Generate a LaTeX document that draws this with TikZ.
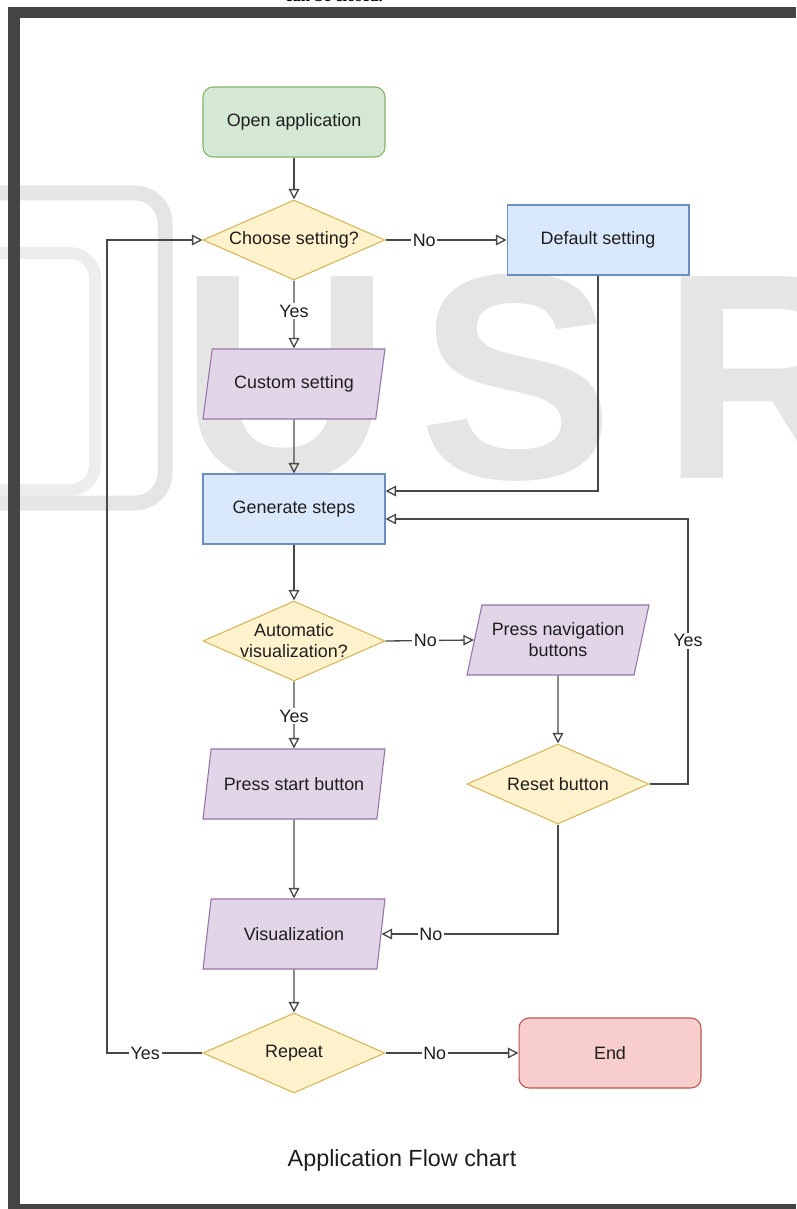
\documentclass[tikz,border=0pt]{standalone}
\usepackage{fontspec}
\setmainfont{Liberation Sans}
\newfontfamily\serifhead{Liberation Serif}
\usetikzlibrary{shapes.geometric,arrows.meta,positioning,calc}
\definecolor{framecol}{RGB}{68,68,68}
\definecolor{wmark}{RGB}{229,229,229}
\definecolor{linecol}{RGB}{72,72,72}
\definecolor{txtcol}{RGB}{30,30,30}
\definecolor{greenfill}{RGB}{213,232,212}\definecolor{greendraw}{RGB}{130,179,102}
\definecolor{yellowfill}{RGB}{255,242,204}\definecolor{yellowdraw}{RGB}{214,182,86}
\definecolor{bluefill}{RGB}{218,232,252}\definecolor{bluedraw}{RGB}{108,142,191}
\definecolor{purplefill}{RGB}{225,213,231}\definecolor{purpledraw}{RGB}{150,115,166}
\definecolor{redfill}{RGB}{248,206,204}\definecolor{reddraw}{RGB}{184,84,80}
\tikzset{shapebase/.style={draw,line width=0.6pt,minimum width=3.64cm,minimum height=1.4cm,
  align=center,text=txtcol,font=\fontsize{10.2}{12}\selectfont}}
\tikzset{terminal/.style={shapebase,rounded corners=0.2cm,fill=#1fill,draw=#1draw},terminal/.default=green}
\tikzset{process/.style={shapebase,fill=bluefill,draw=bluedraw}}
\tikzset{inout/.style={shapebase,trapezium,trapezium left angle=72,trapezium right angle=108,
  trapezium stretches body,inner xsep=0pt,fill=purplefill,draw=purpledraw}}
\tikzset{decision/.style={shapebase,diamond,minimum height=1.6cm,inner sep=0pt,fill=yellowfill,draw=yellowdraw}}
\tikzset{dtext/.style={align=center,text=txtcol,font=\fontsize{10.2}{12}\selectfont}}
\tikzset{flow/.style={draw=linecol,line width=0.75pt,-{Triangle[open,length=6pt,width=6pt]}}}
\tikzset{answer/.style={fill=white,inner sep=1pt,text=txtcol,font=\fontsize{10.2}{12}\selectfont}}
\tikzset{wmtext/.style={text=wmark,inner sep=0pt,font=\bfseries\fontsize{167}{167}\selectfont}}

\begin{document}
\begin{tikzpicture}[x=0.02cm,y=-0.02cm]
	\useasboundingbox (0,0) rectangle (796,1209);

	% watermark behind everything
	\draw[wmark,line width=0.3cm,rounded corners=0.6cm] (-40,193) -- (165,193) -- (165,503) -- (-40,503);
	\draw[wmark!70!white,line width=0.24cm,rounded corners=0.5cm] (-40,253) -- (95,253) -- (95,490) -- (-40,490);
	\node[wmtext,anchor=base west] (wmU) at (179,478) {U};
	\node[wmtext,anchor=base west] (wmS) at (418,478) {S};
	\node[wmtext,anchor=base west] (wmR) at (661,478) {R};

	% page frame
	\node[anchor=base,inner sep=0pt,font=\serifhead\bfseries\fontsize{9.5}{11}\selectfont] (note) at (334,2) {can be closed.};
	\fill[framecol] (8,7) rectangle (796,18);
	\fill[framecol] (8,7) rectangle (20,1209);
	\fill[framecol] (8,1204) rectangle (796,1209);

	% boxes
	\node[terminal] (open) at (294,122) {Open application};
	\node[decision,label={[dtext]center:Choose setting?}] (choose) at (294,240) {};
	\node[process] (default) at (598,240) {Default setting};
	\node[inout] (custom) at (294,384) {Custom setting};
	\node[process] (generate) at (294,509) {Generate steps};
	\node[decision,label={[dtext]center:Automatic\\visualization?}] (auto) at (294,641) {};
	\node[inout] (nav) at (558,640) {Press navigation\\buttons};
	\node[inout] (start) at (294,784) {Press start button};
	\node[decision,label={[dtext]center:Reset button}] (reset) at (558,784) {};
	\node[inout] (visual) at (294,934) {Visualization};
	\node[decision,label={[dtext]center:Repeat}] (repeat) at (294,1053) {};
	\node[terminal=red] (end) at (610,1053) {End};
	\node[text=txtcol,font=\fontsize{13.3}{15}\selectfont] (title) at (402,1160) {Application Flow chart};

	% connectors
	\coordinate (yesturn) at (688,519);
	\coordinate (loopback) at (107,1053);
	\draw[flow] (open) -- (choose);
	\draw[flow] (choose.east) -- node[answer,pos=0.32] {No} (default.west);
	\draw[flow] (choose.south) -- node[answer,pos=0.45] {Yes} (custom.north);
	\draw[flow] (custom) -- (generate);
	\draw[flow] (default.south) |- ($(generate.east)+(0,-18)$);
	\draw[flow] (generate) -- (auto);
	\draw[flow] (auto.east) -- node[answer,pos=0.45] {No} (nav.west);
	\draw[flow] (auto.south) -- node[answer,pos=0.52] {Yes} (start.north);
	\draw[flow] (nav) -- (reset);
	\draw[flow] (reset.east) -| (yesturn) node[answer,pos=0.77] {Yes} -- ($(generate.east)+(0,10)$);
	\draw[flow] (start) -- (visual);
	\draw[flow] (reset.south) |- node[answer,pos=0.86] {No} (visual.east);
	\draw[flow] (visual) -- (repeat);
	\draw[flow] (repeat.west) -- node[answer,pos=0.6] {Yes} (loopback) |- (choose.west);
	\draw[flow] (repeat.east) -- node[answer,pos=0.37] {No} (end.west);
\end{tikzpicture}
\end{document}
